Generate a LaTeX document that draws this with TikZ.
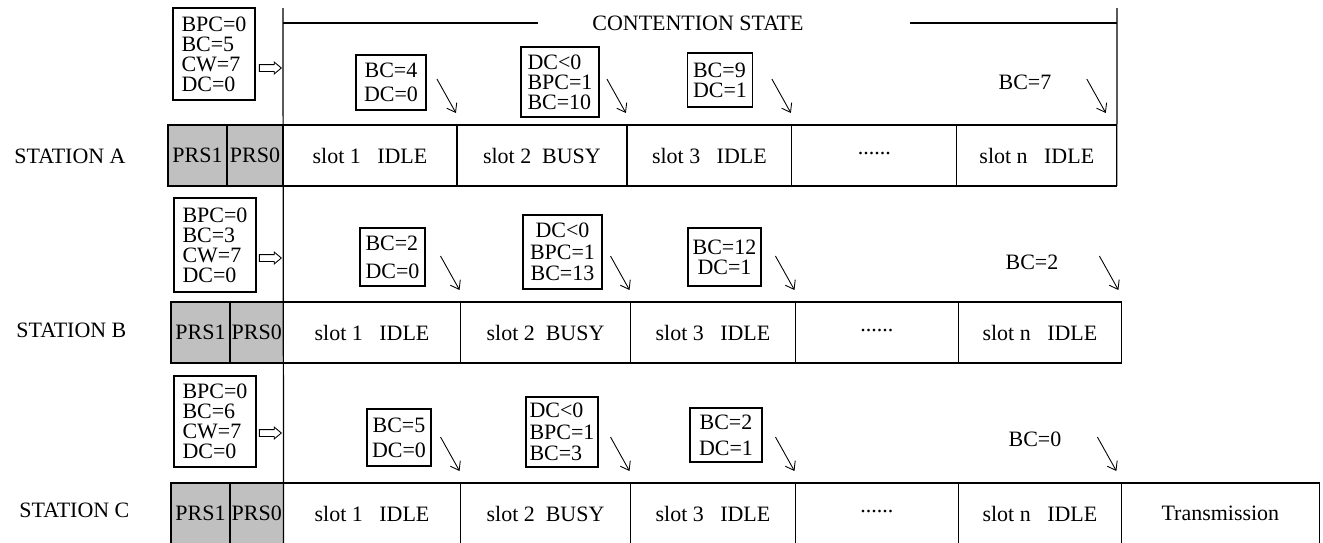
\documentclass[tikz,border=0pt]{standalone}
\usepackage{fontspec}
\setmainfont{Liberation Serif}
\usetikzlibrary{arrows.meta,shapes.arrows}
\definecolor{prsgray}{RGB}{192,192,192}
\begin{document}
\begin{tikzpicture}[x=0.02cm,y=-0.02cm,line width=0.7pt,
    every node/.style={font=\fontsize{12.5}{11.4}\selectfont},
    cell/.style={draw,anchor=north west,minimum height=1.22cm,inner sep=1pt,outer sep=0pt},
    prs/.style={cell,fill=prsgray},
    state/.style={draw,inner sep=0pt,align=left},
    ptr/.style={-{Straight Barb[length=4.5pt,width=6.5pt]},line width=0.5pt},
    hollow/.style={draw,single arrow,inner xsep=0pt,inner ysep=0.06cm,minimum height=0.44cm,
        single arrow head extend=0.05cm,single arrow tip angle=80,line width=0.5pt}]
    \useasboundingbox (0,0) rectangle (1323,542);
    % contention state frame
    \coordinate (cstart) at (283,8);
    \coordinate (cend) at (1117,8);
    \node (cs) at (698,23) {CONTENTION STATE};
    \draw (cstart |- cs) -- ([xshift=-0.96cm]cs.west);
    \draw ([xshift=2.0cm]cs.east) -- (cend |- cs);
    % station A
    \node[anchor=west] (sta) at (8,156) {STATION A};
    \node[prs,minimum width=1.18cm] (pa1) at (168,125) {PRS1};
    \node[prs,minimum width=1.12cm] (pa0) at (pa1.north east) {PRS0};
    \node[cell,minimum width=3.48cm] (a1) at (pa0.north east) {slot 1\ \ \ IDLE};
    \node[cell,minimum width=3.40cm] (a2) at (a1.north east) {slot 2\ \ BUSY};
    \node[cell,minimum width=3.30cm] (a3) at (a2.north east) {slot 3\ \ \ IDLE};
    \node[cell,minimum width=3.30cm] (a4) at (a3.north east) {\raisebox{3pt}{......}};
    \node[cell,minimum width=3.20cm] (a5) at (a4.north east) {slot n\ \ \ IDLE};
    \node[state,minimum width=1.64cm,minimum height=1.84cm] (ia) at (214,54) {BPC=0\\BC=5\\CW=7\\DC=0};
    \node[hollow,anchor=tip] (ha) at (282,68) {};
    \node[state,minimum width=1.40cm,minimum height=1.10cm,align=center] (sa1) at (391,82.5) {BC=4\\[2.2pt]DC=0};
    \node[state,minimum width=1.56cm,minimum height=1.40cm] (sa2) at (560,82) {DC<0\\BPC=1\\BC=10};
    \node[state,minimum width=1.30cm,minimum height=1.08cm] (sa3) at (720,80) {BC=9\\DC=1};
    \node (sa4) at (1025,82) {BC=7};
    \draw[ptr] (a1.north east) ++(-20,-46) -- ++(19,34);
    \draw[ptr] (a2.north east) ++(-20,-46) -- ++(19,34);
    \draw[ptr] (a3.north east) ++(-20,-46) -- ++(19,34);
    \draw[ptr] (a5.north east) ++(-30,-46) -- ++(19,34);
    % station B
    \node[anchor=west] (stb) at (10,330) {STATION B};
    \node[prs,minimum width=1.18cm] (pb1) at (171,302) {PRS1};
    \node[prs,minimum width=1.06cm] (pb0) at (pb1.north east) {PRS0};
    \node[cell,minimum width=3.54cm] (b1) at (pb0.north east) {slot 1\ \ \ IDLE};
    \node[cell,minimum width=3.40cm] (b2) at (b1.north east) {slot 2\ \ BUSY};
    \node[cell,minimum width=3.30cm] (b3) at (b2.north east) {slot 3\ \ \ IDLE};
    \node[cell,minimum width=3.26cm] (b4) at (b3.north east) {\raisebox{3pt}{......}};
    \node[cell,minimum width=3.26cm] (b5) at (b4.north east) {slot n\ \ \ IDLE};
    \node[state,minimum width=1.64cm,minimum height=1.88cm] (ib) at (215,245) {BPC=0\\BC=3\\CW=7\\DC=0};
    \node[hollow,anchor=tip] (hb) at (282,258) {};
    \node[state,minimum width=1.30cm,minimum height=1.16cm] (sb1) at (392.5,257) {BC=2\\[4.5pt]DC=0};
    \node[state,minimum width=1.58cm,minimum height=1.48cm,align=center] (sb2) at (562.5,252) {DC<0\\[1pt]BPC=1\\[1pt]BC=13};
    \node[state,minimum width=1.46cm,minimum height=1.16cm,align=center] (sb3) at (724.5,257) {BC=12\\DC=1};
    \node (sb4) at (1032,262) {BC=2};
    \draw[ptr] (b1.north east) ++(-20,-46) -- ++(19,34);
    \draw[ptr] (b2.north east) ++(-20,-46) -- ++(19,34);
    \draw[ptr] (b3.north east) ++(-20,-46) -- ++(19,34);
    \draw[ptr] (b5.north east) ++(-22,-46) -- ++(19,34);
    % station C
    \node[anchor=west] (stc) at (13,510) {STATION C};
    \node[prs,minimum width=1.18cm] (pc1) at (171,483) {PRS1};
    \node[prs,minimum width=1.06cm] (pc0) at (pc1.north east) {PRS0};
    \node[cell,minimum width=3.54cm] (c1) at (pc0.north east) {slot 1\ \ \ IDLE};
    \node[cell,minimum width=3.40cm] (c2) at (c1.north east) {slot 2\ \ BUSY};
    \node[cell,minimum width=3.30cm] (c3) at (c2.north east) {slot 3\ \ \ IDLE};
    \node[cell,minimum width=3.26cm] (c4) at (c3.north east) {\raisebox{3pt}{......}};
    \node[cell,minimum width=3.26cm] (c5) at (c4.north east) {slot n\ \ \ IDLE};
    \node[cell,minimum width=3.96cm] (c6) at (c5.north east) {Transmission};
    \node[state,minimum width=1.64cm,minimum height=1.82cm] (ic) at (215,421.5) {BPC=0\\BC=6\\CW=7\\DC=0};
    \node[hollow,anchor=tip] (hc) at (282,433) {};
    \node[state,minimum width=1.28cm,minimum height=1.14cm,align=center] (sc1) at (399,437.5) {BC=5\\[2.8pt]DC=0};
    \node[state,minimum width=1.44cm,minimum height=1.40cm] (sc2) at (562,432) {DC<0\\[1pt]BPC=1\\[1pt]BC=3};
    \node[state,minimum width=1.44cm,minimum height=1.08cm,align=center] (sc3) at (726,435) {BC=2\\[3.4pt]DC=1};
    \node (sc4) at (1035,439) {BC=0};
    \draw[ptr] (c1.north east) ++(-20,-46) -- ++(19,34);
    \draw[ptr] (c2.north east) ++(-20,-46) -- ++(19,34);
    \draw[ptr] (c3.north east) ++(-20,-46) -- ++(19,34);
    \draw[ptr] (c5.north east) ++(-24,-46) -- ++(19,34);
    % frame lines
    \draw (cstart) -- (c1.south west);
    \draw (cend) -- (a5.south east);
\end{tikzpicture}
\end{document}
